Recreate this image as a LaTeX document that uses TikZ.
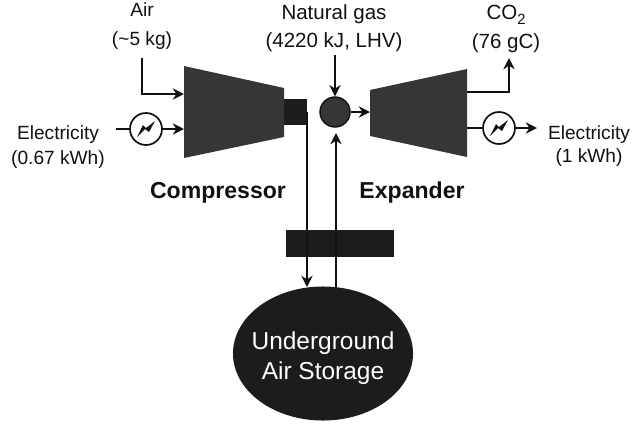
\documentclass[tikz,border=0pt]{standalone}
\usepackage{xcolor}
\usepackage{fontspec}
\setmainfont{Liberation Sans}
\usepackage{tikz}
\usetikzlibrary{positioning,arrows.meta,shapes.geometric}
\definecolor{dark}{HTML}{363636}
\definecolor{darker}{HTML}{1C1C1C}
\definecolor{ink}{HTML}{111111}
\newcommand{\bolt}{\fill[ink] (-9,8) -- (-3,-4) -- (0,-1) -- (9,-8) -- (3,3) -- (-1,0) -- cycle;}

\begin{document}
\begin{tikzpicture}[x=0.025cm,y=-0.025cm,every node/.style={font=\fontsize{13.6}{17.5}\selectfont,text=ink},
    label/.style={align=center,inner sep=0pt},
    toplabel/.style={label,font=\fontsize{14.6}{20}\selectfont},
    title/.style={font=\fontsize{16.4}{19}\selectfont\bfseries,inner sep=0pt},
    machine/.style={fill=dark},
    block/.style={fill=darker,inner sep=0pt},
    gen/.style={circle,draw=ink,fill=white,line width=1.2pt,minimum size=0.8cm,inner sep=0pt},
    flow/.style={-{Stealth[length=8pt,width=8pt]},line width=2pt,ink},
    plain/.style={line width=2pt,ink}]
    \useasboundingbox (0,0) rectangle (632,423);
    % compressor and expander
    \fill[machine] (184,66) -- (284,88) -- (284,137) -- (184,158) -- cycle;
    \fill[machine] (370,90) -- (467,69) -- (467,157) -- (370,136) -- cycle;
    \coordinate (cmpa) at (184,94);
    \coordinate (cmpb) at (184,129);
    \coordinate (expa) at (467,92);
    \coordinate (expb) at (467,128);
    \coordinate (expc) at (370,112);
    \coordinate (shaftout) at (307,112);
    \coordinate (cavin) at (307,287);
    \coordinate (cavout) at (336,287);
    \coordinate (burnin) at (336,133);
    \coordinate (airtop) at (142,58);
    \coordinate (gastop) at (335,55);
    \coordinate (co2end) at (509,58);
    \coordinate (elecstart) at (116,129);
    \coordinate (elecend) at (537,128);
    \node[block,minimum width=0.575cm,minimum height=0.65cm] (shaft) at (295.5,112) {};
    \node[circle,fill=dark,draw=ink,line width=1pt,minimum size=0.75cm,inner sep=0pt] (burner) at (335,112) {};
    \node[block,minimum width=2.7cm,minimum height=0.675cm] (cooler) at (340,243.5) {};
    \node[ellipse,fill=darker,minimum width=4.5cm,minimum height=3.35cm,inner sep=0pt] (cavern) at (323,353.5) {};
    % texts
    \node[align=center,inner sep=0pt,text=white,font=\fontsize{17.4}{21.3}\selectfont] (cavtext) at (323,358) {Underground\\Air Storage};
    \node[label,font=\fontsize{13.6}{20}\selectfont] (air) at (142,26) {Air\\(\textasciitilde5 kg)};
    \node[toplabel] (gas) at (334,28) {Natural gas\\(4220 kJ, LHV)};
    \node[toplabel] (co2) at (506,29) {CO\raisebox{-0.45ex}{\fontsize{10.5}{12}\selectfont 2}\\(76 gC)};
    \node[label] (elecin) at (58,147) {Electricity\\(0.67 kWh)};
    \node[label,font=\fontsize{13.6}{16.5}\selectfont] (elecout) at (589,146) {Electricity\\(1 kWh)};
    \node[title] (cmplabel) at (218,193) {Compressor};
    \node[title] (explabel) at (412,193) {Expander};
    % generators
    \node[gen] (genin) at (146,129) {};
    \node[gen] (genout) at (499,128) {};
    \begin{scope}[shift={(146,129)}] \bolt \end{scope}
    \begin{scope}[shift={(499,128)}] \bolt \end{scope}
    % flows
    \draw[flow] (airtop) |- (cmpa);
    \draw[flow] (gastop) -- (burner);
    \draw[flow] (burner) -- (expc);
    \draw[flow] (expa) -| (co2end);
    \draw[plain] (elecstart) -- (genin);
    \draw[flow] (genin) -- (cmpb);
    \draw[plain] (expb) -- (genout);
    \draw[flow] (genout) -- (elecend);
    \draw[flow] (shaftout) -- (cavin);
    \draw[flow] (cavout) -- (burnin);
  \end{tikzpicture}
\end{document}
